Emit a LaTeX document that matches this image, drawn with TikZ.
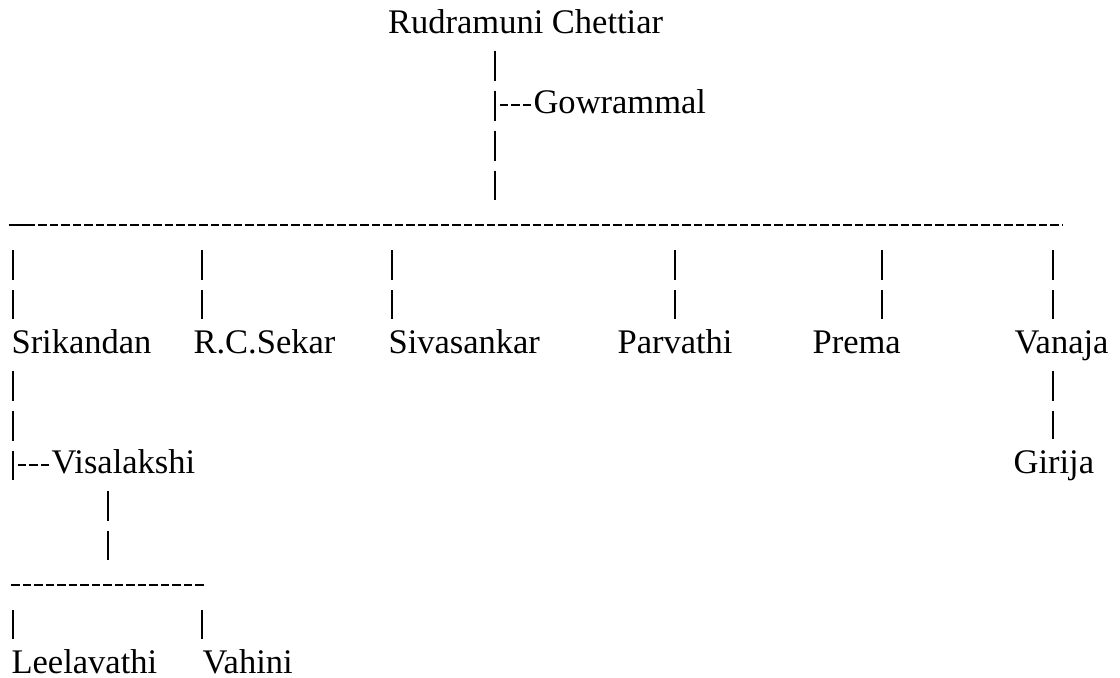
\documentclass[tikz,border=0pt]{standalone}
\usepackage{fontspec}
\setmainfont{Liberation Serif}

\begin{document}
\begin{tikzpicture}[x=0.3478pt,y=-0.3478pt,
  person/.style={inner sep=0pt, anchor=base west, text height=8pt, text depth=2.43pt, font=\fontsize{12}{14}\selectfont},
  pipe/.style={line width=0.6pt, dash pattern=on 10.43pt off 3.48pt, shorten <=3.48pt, shorten >=3.48pt},
  hyph/.style={line width=0.85pt, dash pattern=on 2.9pt off 1.1pt}]
\fill[white] (0,0) rectangle (1120,677);
\useasboundingbox (0,0) rectangle (1120,677);

\node[person] (rud) at (387.5,33) {Rudramuni Chettiar};
\node[person] (gow) at (533,113) {Gowrammal};

\node[person] (sri) at (11,353) {Srikandan};
\node[person] (sek) at (193,353) {R.C.Sekar};
\node[person] (siv) at (388,353) {Sivasankar};
\node[person] (par) at (617,353) {Parvathi};
\node[person] (pre) at (812,353) {Prema};
\node[person] (van) at (1014,353) {Vanaja};

\node[person] (visa) at (51,473) {Visalakshi};
\node[person] (gir) at (1013,473) {Girija};

\node[person] (lee) at (11,673) {Leelavathi};
\node[person] (vah) at (202,673) {Vahini};

\coordinate (t) at (495,225.2);
\coordinate (barL) at (8.5,225.2);
\coordinate (barM) at (26.8,225.2);
\coordinate (barR) at (1063,225.2);
\foreach \n/\x in {1/13,2/202,3/392,4/675,5/882,6/1053}
  \coordinate (c\n) at (\x,225.2);
\coordinate (gj) at (499.8,105.2);
\coordinate (sk) at (13,480);
\coordinate (vk) at (17.85,465.2);
\coordinate (vj) at (108,585.2);
\coordinate (sbL) at (11.4,585.2);
\coordinate (sbR) at (204,585.2);
\coordinate (l1) at (13,585.2);
\coordinate (l2) at (202,585.2);

\draw[pipe, shorten >=8.7pt] (t |- rud.south) -- (t);
\draw[hyph] (gj) -- (gj -| gow.west);

\draw[line width=0.85pt] (barL) -- (barM);
\draw[hyph] (barM) -- (barR);
\foreach \n/\nm in {1/sri,2/sek,3/siv,4/par,5/pre,6/van}
  \draw[pipe, shorten <=8.63pt] (c\n) -- (c\n |- \nm.north);

\draw[pipe, shorten >=0pt] (sk |- sri.south) -- (sk);
\draw[hyph] (vk) -- (vk -| visa.west);
\draw[pipe, shorten >=8.7pt] (vj |- visa.south) -- (vj);
\draw[hyph] (sbL) -- (sbR);
\draw[pipe, shorten <=8.63pt] (l1) -- (l1 |- lee.north);
\draw[pipe, shorten <=8.63pt] (l2) -- (l2 |- vah.north);

\draw[pipe] (c6 |- van.south) -- (c6 |- gir.north);
\end{tikzpicture}
\end{document}
